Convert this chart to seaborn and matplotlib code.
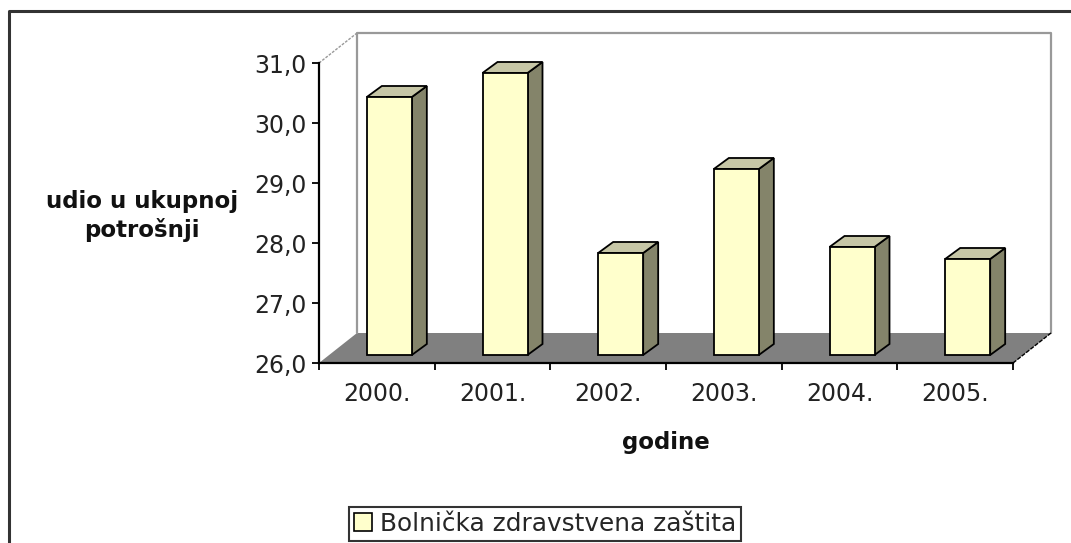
import numpy as np
import pandas as pd
import matplotlib
matplotlib.use("Agg")
import matplotlib.pyplot as plt
import seaborn as sns
from matplotlib.patches import Polygon, Patch
from matplotlib.lines import Line2D

# ---- data ----
years = ["2000.", "2001.", "2002.", "2003.", "2004.", "2005."]
share = [30.3, 30.7, 27.7, 29.1, 27.8, 27.6]
y_ticks = [26.0, 27.0, 28.0, 29.0, 30.0, 31.0]
y_ticklabels = ["26,0", "27,0", "28,0", "29,0", "30,0", "31,0"]
series_name = "Bolnička zdravstvena zaštita"
x_title = "godine"
y_title = "udio u ukupnoj\npotrošnji"

df = pd.DataFrame({"godina": years, "udio": share})

# ---- style ----
sns.set_style("white")
plt.rcParams["font.family"] = ["DejaVu Sans"]

FRONT = "#FFFFCC"
SIDE = "#84846A"
TOP = "#C6C6A6"
FLOOR = "#808080"
WALL = "#999999"

W, H, DPI = 1071, 543, 100
fig = plt.figure(figsize=(W / DPI, H / DPI), dpi=DPI)
fig.patch.set_facecolor("white")

ax_l, ax_r, ax_t, ax_b = 319, 1013, 63, 363
ax = fig.add_axes([ax_l / W, 1 - ax_b / H, (ax_r - ax_l) / W, (ax_b - ax_t) / H])
ax.set_facecolor("none")

ncat = len(years)
ymin, ymax = y_ticks[0], y_ticks[-1]
kx = ncat / (ax_r - ax_l)           # data units per pixel (x)
ky = (ymax - ymin) / (ax_b - ax_t)  # data units per pixel (y)

bar_w = 45 * kx
sns.barplot(data=df, x="godina", y="udio", color=FRONT, saturation=1,
            width=bar_w, edgecolor="black", linewidth=1.3, ax=ax, zorder=3)
bars = list(ax.patches)
ax.set_xlim(-0.5, ncat - 0.5)
ax.set_ylim(ymin, ymax)

# floor & walls (depth offset in pixels)
fdx, fdy = 38, 30
x0, x1 = -0.5, ncat - 0.5
floor = Polygon([(x0, ymin), (x1, ymin), (x1 + fdx * kx, ymin + fdy * ky),
                 (x0 + fdx * kx, ymin + fdy * ky)], closed=True,
                facecolor=FLOOR, edgecolor="none", zorder=1, clip_on=False)
ax.add_patch(floor)
bx0, bx1 = x0 + fdx * kx, x1 + fdx * kx
by0, by1 = ymin + fdy * ky, ymax + fdy * ky
ax.add_line(Line2D([bx0, bx0, bx1, bx1], [by0, by1, by1, by0], color=WALL,
                   lw=1.6, zorder=1.5, clip_on=False))
ax.add_line(Line2D([x0, bx0], [ymax, by1], color=WALL, lw=1.0,
                   ls=(0, (2, 1)), zorder=1.5, clip_on=False))
ax.add_line(Line2D([x1, x1 + fdx * kx], [ymin, by0], color="black", lw=1.0,
                   ls=(0, (3, 1)), zorder=1.6, clip_on=False))

# 3D bars: shift front face and add side/top faces
off_x, off_y = 12.5, 8     # bar front offset from floor front edge (px)
ddx, ddy = 15, 11          # bar depth (px)
for p, v in zip(bars, share):
    xl = p.get_x() + off_x * kx
    xr = xl + p.get_width()
    yb = ymin + off_y * ky
    yt = v + off_y * ky
    p.set_x(xl)
    p.set_y(yb)
    p.set_height(yt - yb)
    p.set_clip_on(False)
    side = Polygon([(xr, yb), (xr, yt), (xr + ddx * kx, yt + ddy * ky),
                    (xr + ddx * kx, yb + ddy * ky)], closed=True,
                   facecolor=SIDE, edgecolor="black", lw=1.3, zorder=2.9,
                   clip_on=False)
    top = Polygon([(xl, yt), (xr, yt), (xr + ddx * kx, yt + ddy * ky),
                   (xl + ddx * kx, yt + ddy * ky)], closed=True,
                  facecolor=TOP, edgecolor="black", lw=1.3, zorder=2.9,
                  clip_on=False)
    ax.add_patch(side)
    ax.add_patch(top)

# axes styling
for s in ["top", "right"]:
    ax.spines[s].set_visible(False)
for s in ["left", "bottom"]:
    ax.spines[s].set_color("black")
    ax.spines[s].set_linewidth(1.6)
    ax.spines[s].set_zorder(4)

ax.set_yticks(y_ticks)
ax.set_yticklabels(y_ticklabels)
ax.tick_params(axis="y", direction="out", length=5, width=1.3, color="black",
               labelsize=17, pad=4, labelcolor="#222222", left=True)
ax.set_xticks(range(ncat))
ax.set_xticklabels(years)
ax.set_xticks(np.arange(-0.5, ncat, 1.0), minor=True)
ax.tick_params(axis="x", which="major", length=0, labelsize=17, pad=14,
               labelcolor="#222222")
ax.tick_params(axis="x", which="minor", length=5, width=1.3, color="black",
               bottom=True)
ax.set_xlabel("")
ax.set_ylabel("")

fig.text(666 / W, 1 - 442 / H, x_title, ha="center", va="center",
         fontsize=16.5, fontweight="bold", color="#111111")
fig.text(142 / W, 1 - 216 / H, y_title, ha="center", va="center",
         multialignment="center", fontsize=16.5, fontweight="bold",
         color="#111111", linespacing=1.25)

leg = fig.legend(handles=[Patch(facecolor=FRONT, edgecolor="black", lw=1.2)],
                 labels=[series_name], loc="center",
                 bbox_to_anchor=(545 / W, 1 - 524 / H), frameon=True,
                 fancybox=False, fontsize=17.8, handlelength=0.75,
                 handleheight=0.75, handletextpad=0.3, borderpad=0.2,
                 borderaxespad=0)
leg.get_frame().set_edgecolor("black")
leg.get_frame().set_linewidth(1.5)

# outer chart frame (top & left visible)
fig.add_artist(Line2D([9 / W, 9 / W, 1.0], [0.0, 1 - 11 / H, 1 - 11 / H],
                      transform=fig.transFigure, color="#333333", lw=2.2))

fig.savefig("out.png", dpi=DPI)
